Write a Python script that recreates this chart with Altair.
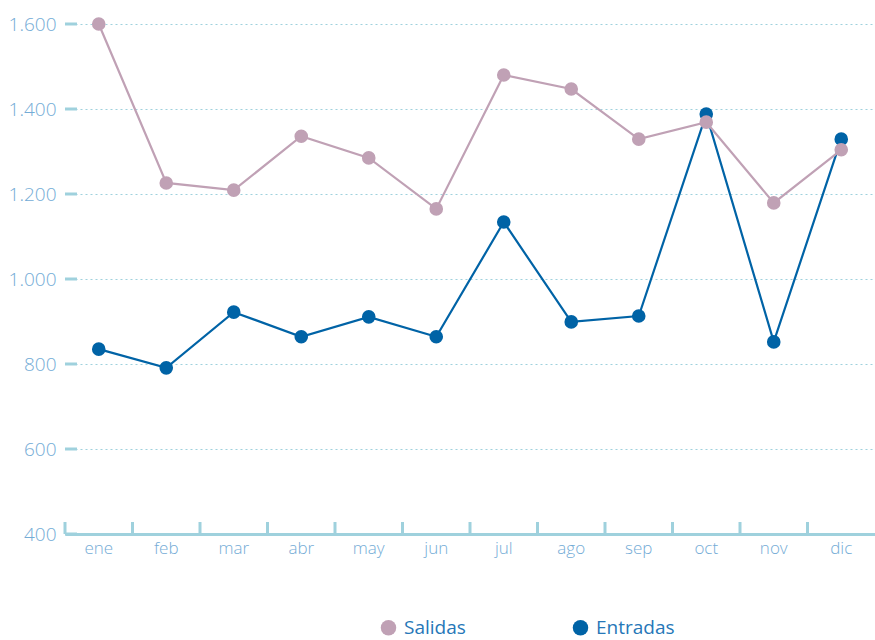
import altair as alt
import pandas as pd

# Monthly series
meses = ["ene", "feb", "mar", "abr", "may", "jun", "jul", "ago", "sep", "oct", "nov", "dic"]
salidas = [1600, 1226, 1209, 1336, 1285, 1165, 1480, 1447, 1329, 1369, 1179, 1304]
entradas = [835, 791, 922, 864, 911, 864, 1134, 899, 913, 1388, 852, 1329]
series = ["Salidas", "Entradas"]
colores = ["#c0a1b5", "#0063a6"]
y_ticks = [400, 600, 800, 1000, 1200, 1400, 1600]

df_sal = pd.DataFrame({"mes": meses, "valor": salidas, "serie": "Salidas"})
df_ent = pd.DataFrame({"mes": meses, "valor": entradas, "serie": "Entradas"})
df_ticks = pd.DataFrame({"v": y_ticks})
df_meses = pd.DataFrame({"mes": meses})

AXIS_COLOR = "#9fd1dd"
LABEL_COLOR = "#74acd6"
FONT = "Open Sans"

x_scale = alt.Scale(domain=meses, paddingInner=0, paddingOuter=0)
x_enc = alt.X(
    "mes:N", scale=x_scale,
    axis=alt.Axis(
        title=None, ticks=False, domain=True, domainColor=AXIS_COLOR, domainWidth=3,
        labelColor=LABEL_COLOR, labelFontSize=17, labelFont=FONT, labelFontWeight=300,
        labelPadding=6, labelAngle=0, grid=False, bandPosition=0.5, labelBaseline="top",
    ),
)
y_scale = alt.Scale(domain=[400, 1600], nice=False, zero=False)
y_enc = alt.Y(
    "valor:Q", scale=y_scale,
    axis=alt.Axis(
        title=None, values=y_ticks, domain=False, ticks=False,
        grid=True, gridDash=[2, 3], gridColor=AXIS_COLOR, gridWidth=1.2,
        labelColor=LABEL_COLOR, labelFontSize=19, labelFont=FONT, labelFontWeight=300,
        labelPadding=9,
        labelExpr="replace(format(datum.value, ','), ',', '.')",
    ),
)
color_enc = alt.Color(
    "serie:N",
    scale=alt.Scale(domain=series, range=colores),
    legend=alt.Legend(
        title=None, orient="none", direction="horizontal",
        legendX=314, legendY=594,
        symbolType="circle", symbolSize=240, symbolStrokeWidth=0,
        labelFont=FONT, labelFontSize=19, labelFontWeight=400, labelColor="#2677b8",
        labelOffset=6, columnPadding=105,
    ),
)

def serie_layers(df):
    base = alt.Chart(df).encode(x=x_enc, y=y_enc, color=color_enc)
    linea = base.mark_line(strokeWidth=2.2)
    puntos = base.mark_point(filled=True, size=185, opacity=1)
    return [linea, puntos]

# Short inward ticks on the y axis
y_tick_marks = alt.Chart(df_ticks).mark_rule(color=AXIS_COLOR, strokeWidth=3).encode(
    y=alt.Y("v:Q", scale=y_scale),
    x=alt.value(0), x2=alt.value(12),
)

# Inward ticks at month boundaries on the x axis
x_tick_marks = alt.Chart(df_meses).mark_rule(color=AXIS_COLOR, strokeWidth=3).encode(
    x=alt.X("mes:N", scale=x_scale, bandPosition=0),
    y=alt.value(498), y2=alt.value(510),
)

chart = alt.layer(
    *serie_layers(df_ent), *serie_layers(df_sal), y_tick_marks, x_tick_marks
).properties(
    width=810, height=510,
    autosize=alt.AutoSizeParams(type="none"),
    padding={"left": 65, "top": 24, "right": 0, "bottom": 106},
).configure_view(stroke=None)

chart.save("out.html", embed_options={"renderer": "svg", "actions": False})
